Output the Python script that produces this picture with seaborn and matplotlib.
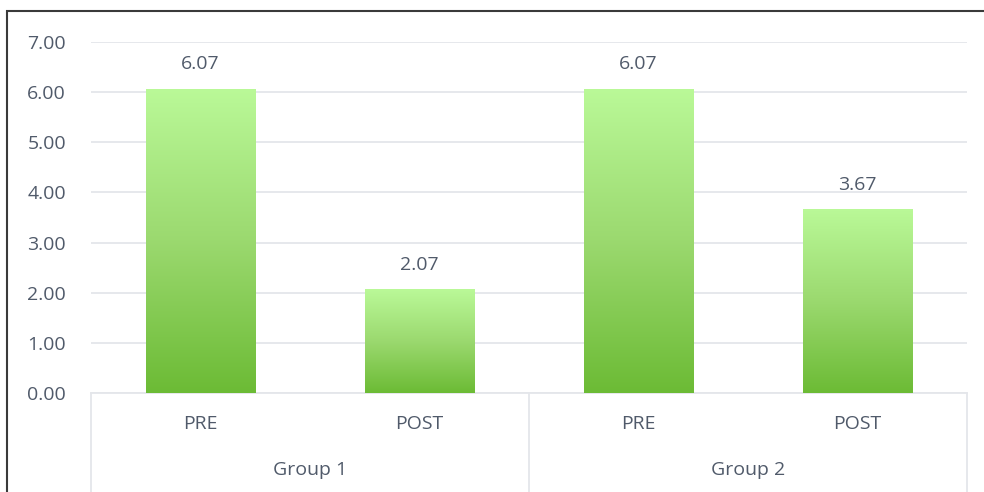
import numpy as np
import pandas as pd
import matplotlib
matplotlib.use("Agg")
import matplotlib.pyplot as plt
import matplotlib.colors as mcolors
from matplotlib.patches import Rectangle
import seaborn as sns

## Data
groups = ["Group 1", "Group 1", "Group 2", "Group 2"]
phases = ["PRE", "POST", "PRE", "POST"]
scores = [6.07, 2.07, 6.07, 3.67]
group_names = ["Group 1", "Group 2"]

df = pd.DataFrame({"group": groups, "phase": phases, "score": scores})
df["key"] = df["group"] + " " + df["phase"]

sns.set_theme(style="white")
plt.rcParams["font.family"] = ["Open Sans", "DejaVu Sans"]
text_col = "#505a6a"
grid_col = "#e4e6ea"

fig = plt.figure(figsize=(9.84, 4.92), dpi=100)
ax = fig.add_axes([91 / 984, 99 / 492, 876 / 984, 351 / 492])

sns.barplot(data=df, x="key", y="score", width=0.5, color="#8fd468", ax=ax,
            errorbar=None, zorder=3, linewidth=0)

## gradient fill in each bar
grad = mcolors.LinearSegmentedColormap.from_list("g", ["#6cbb35", "#9bd96f", "#baf998"])
img = np.linspace(0, 1, 256).reshape(-1, 1)
for p in ax.patches:
    x0, y0 = p.get_x(), p.get_y()
    w, h = p.get_width(), p.get_height()
    im = ax.imshow(img, cmap=grad, origin="lower", aspect="auto",
                   extent=(x0, x0 + w, y0, y0 + h), zorder=3)
    im.set_clip_path(p)
    p.set_facecolor("none")
    p.set_edgecolor("none")

## value labels
for i, v in enumerate(scores):
    ax.annotate(f"{v:.2f}", (i, v), xytext=(0, 11), textcoords="offset points",
                ha="center", va="bottom", fontsize=14, color=text_col)

ax.set_xlim(-0.5, 3.5)
ax.set_ylim(0, 7)
ax.set_yticks(np.arange(0, 8, 1))
ax.set_yticklabels([f"{t:.2f}" for t in np.arange(0, 8, 1)])
ax.yaxis.grid(True, color=grid_col, lw=1.3, zorder=0)
ax.set_axisbelow(True)
ax.tick_params(axis="y", length=0, pad=18, labelsize=14, labelcolor=text_col)
ax.set_xticks(range(4))
ax.set_xticklabels(phases)
ax.tick_params(axis="x", length=0, pad=16, labelsize=14, labelcolor=text_col)
ax.set_xlabel("")
ax.set_ylabel("")
for s in ["top", "right", "left"]:
    ax.spines[s].set_visible(False)
ax.spines["bottom"].set_color(grid_col)
ax.spines["bottom"].set_linewidth(1.3)

## multi-level category axis
for xv in [-0.5, 1.5, 3.5]:
    ax.plot([xv, xv], [0, -0.3], transform=ax.get_xaxis_transform(), color=grid_col,
            lw=1.3, clip_on=False)
for gi, g in enumerate(group_names):
    ax.text(gi * 2 + 0.5, -0.22, g, transform=ax.get_xaxis_transform(), ha="center",
            va="center", fontsize=14, color=text_col)

## outer frame
fig.add_artist(Rectangle((7 / 984, -0.1), 1.1, (492 - 11) / 492 + 0.1,
                         transform=fig.transFigure, fill=False, edgecolor="#3a3a3a", lw=1.5))

fig.savefig("out.png", dpi=100, facecolor="white")
